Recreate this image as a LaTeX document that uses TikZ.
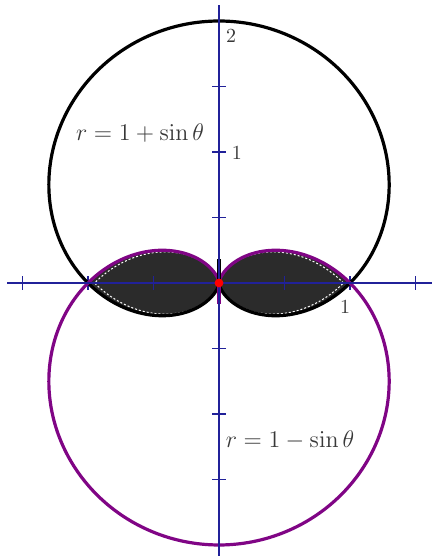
\documentclass[tikz,border=0pt]{standalone}
\usepackage{amsmath,amssymb}
\usepackage{xcolor}
\usepackage{tikz}
\definecolor{axisblue}{rgb}{0.13,0.13,0.60}
\definecolor{curvepurple}{rgb}{0.50,0.02,0.52}
\definecolor{regiongray}{rgb}{0.17,0.17,0.17}
\definecolor{labelgray}{rgb}{0.22,0.22,0.22}

\begin{document}
\begin{tikzpicture}[x=65.5pt, y=65.5pt,
      axis/.style={color=axisblue, line width=0.8pt},
      tick/.style={color=axisblue, line width=0.8pt},
      upper/.style={draw=black, line width=1.6pt},
      lower/.style={draw=curvepurple, line width=1.6pt},
      region/.style={fill=regiongray},
      eqn/.style={font=\large, text=labelgray},
      num/.style={font=\normalsize, text=labelgray, inner sep=1pt}
  ]
    \useasboundingbox (-1.6718,-2.0840) rectangle (1.6260,2.1603);
    % shaded part inside both curves
    \fill[region] plot[domain=0:180, samples=120, smooth] (\x:{1-sin(\x)})
      -- plot[domain=180:360, samples=120, smooth] (\x:{1+sin(\x)}) -- cycle;
    \draw[white, line width=0.5pt, dash pattern=on 1pt off 1pt]
      plot[domain=0:180, samples=120, smooth] (\x:{0.95*(1-sin(\x))})
      -- plot[domain=180:360, samples=120, smooth] (\x:{0.95*(1+sin(\x))}) -- cycle;
    % ticks
    \foreach \t in {-1.5,-1,-0.5,0.5,1,1.5}
      \draw[tick] (\t,-0.05) -- (\t,0.05);
    \foreach \t in {-2,-1.5,-1,-0.5,0.5,1,1.5,2}
      \draw[tick] (-0.05,\t) -- (0.05,\t);
    % curves
    \draw[upper] plot[domain=0:360, samples=240, smooth cycle] (\x:{1+sin(\x)});
    \draw[lower] plot[domain=0:360, samples=240, smooth cycle] (\x:{1-sin(\x)});
    \coordinate (o) at (0,0);
    \coordinate (stubup) at (0,0.18);
    \coordinate (stubdown) at (0,-0.16);
    \draw[black, line width=1.6pt] (o) -- (stubup);
    \draw[curvepurple, line width=1.6pt] (o) -- (stubdown);
    % axes
    \coordinate (xl) at (-1.618,0);
    \coordinate (xr) at (1.626,0);
    \coordinate (yb) at (0,-2.084);
    \coordinate (yt) at (0,2.122);
    \draw[axis] (xl) -- (xr);
    \draw[axis] (yb) -- (yt);
    \fill[red] (o) circle (2.2pt);
    % labels
    \node[eqn] (equp) at (-0.603,1.145) {$r=1+\sin\theta$};
    \node[eqn] (eqdown) at (0.542,-1.198) {$r=1-\sin\theta$};
    \node[num] (ntwo) at (0.092,1.885) {2};
    \node[num] (noney) at (0.137,0.992) {1};
    \node[num] (nonex) at (0.962,-0.183) {1};
  \end{tikzpicture}
\end{document}
